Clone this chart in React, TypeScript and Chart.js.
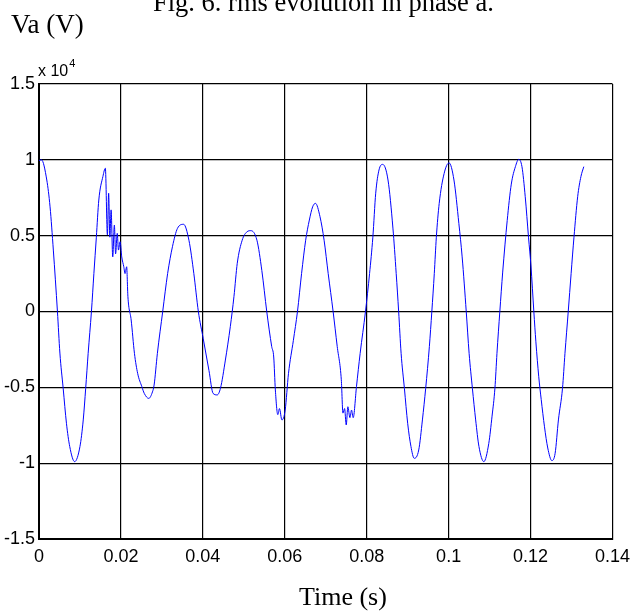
import React, { useEffect, useRef } from "react";
import { Chart, registerables } from "chart.js";

Chart.register(...registerables);

// Time (s)
const timeS = [
  0, 0.0006, 0.0019, 0.0027, 0.0035, 0.0045, 0.0051, 0.0059, 0.0067, 0.0075, 0.0087, 0.0100, 0.0108, 0.0114, 0.0120, 0.0128,
  0.0134, 0.0140, 0.0146, 0.0156, 0.0162, 0.0167, 0.0170, 0.0173, 0.0176, 0.0180, 0.0184, 0.0187, 0.0191, 0.0194, 0.0198,
  0.0202, 0.0207, 0.0210, 0.0214, 0.0217, 0.0225, 0.0233, 0.0241, 0.0251, 0.0257, 0.0268, 0.0277, 0.0281, 0.0289, 0.0302,
  0.0314, 0.0326, 0.0338, 0.0353, 0.0366, 0.0378, 0.0389, 0.0401, 0.0415, 0.0425, 0.0435, 0.0443, 0.0455, 0.0467, 0.0476,
  0.0484, 0.0496, 0.0508, 0.0517, 0.0532, 0.0544, 0.0556, 0.0568, 0.0573, 0.0577, 0.0583, 0.0587, 0.0593, 0.0601, 0.0609,
  0.0621, 0.0631, 0.0641, 0.0651, 0.0660, 0.0668, 0.0675, 0.0686, 0.0696, 0.0706, 0.0718, 0.0728, 0.0738, 0.0742, 0.0746,
  0.0750, 0.0754, 0.0759, 0.0763, 0.0767, 0.0775, 0.0784, 0.0797, 0.0807, 0.0815, 0.0822, 0.0830, 0.0839, 0.0852, 0.0864,
  0.0872, 0.0878, 0.0884, 0.0892, 0.0900, 0.0908, 0.0916, 0.0927, 0.0936, 0.0944, 0.0953, 0.0959, 0.0965, 0.0970, 0.0977,
  0.0989, 0.1001, 0.1013, 0.1025, 0.1033, 0.1043, 0.1050, 0.1058, 0.1066, 0.1074, 0.1086, 0.1098, 0.1106, 0.1113, 0.1118,
  0.1125, 0.1132, 0.1143, 0.1153, 0.1163, 0.1171, 0.1179, 0.1187, 0.1195, 0.1201, 0.1208, 0.1213, 0.1220, 0.1226, 0.1234,
  0.1242, 0.1252, 0.1260, 0.1268, 0.1278, 0.1284, 0.1292, 0.1299, 0.1306, 0.1315, 0.1323, 0.1330,
];

// Va (x 10^4 V)
const vaE4 = [
  0.995, 1.0, 0.867, 0.69, 0.405, 0.0, -0.274, -0.506, -0.737, -0.89, -0.99, -0.89, -0.715, -0.506, -0.276, 0.0,
  0.25, 0.49, 0.735, 0.89, 0.944, 0.504, 0.78, 0.49, 0.67, 0.36, 0.57, 0.38, 0.515, 0.405, 0.46,
  0.36, 0.295, 0.25, 0.295, 0.1, -0.056, -0.276, -0.41, -0.495, -0.54, -0.573, -0.53, -0.485, -0.276, 0.0,
  0.25, 0.43, 0.548, 0.575, 0.47, 0.25, 0.0, -0.18, -0.39, -0.54, -0.55, -0.506, -0.32, -0.1, 0.1,
  0.318, 0.47, 0.526, 0.533, 0.47, 0.27, 0.0, -0.23, -0.3, -0.517, -0.68, -0.64, -0.715, -0.65, -0.41,
  -0.19, 0.0, 0.25, 0.47, 0.603, 0.69, 0.713, 0.625, 0.47, 0.25, 0.0, -0.23, -0.45, -0.67, -0.64,
  -0.748, -0.628, -0.70, -0.65, -0.70, -0.496, -0.276, 0.0, 0.25, 0.49, 0.78, 0.933, 0.97, 0.867, 0.55,
  0.25, 0.0, -0.276, -0.506, -0.737, -0.89, -0.968, -0.913, -0.715, -0.506, -0.23, 0.0, 0.25, 0.49, 0.713,
  0.91, 0.98, 0.867, 0.58, 0.36, 0.0, -0.276, -0.506, -0.715, -0.89, -0.99, -0.87, -0.69, -0.506, -0.276,
  0.0, 0.26, 0.6, 0.84, 0.955, 1.003, 0.955, 0.757, 0.49, 0.3, 0.0, -0.2, -0.43, -0.58, -0.76,
  -0.9, -0.983, -0.935, -0.715, -0.506, -0.276, 0.0, 0.25, 0.49, 0.757, 0.89, 0.955,
];

const xTicks = [0, 0.02, 0.04, 0.06, 0.08, 0.1, 0.12, 0.14];
const xTickLabels = ["0", "0.02", "0.04", "0.06", "0.08", "0.1", "0.12", "0.14"];
const yTicks = [-1.5, -1, -0.5, 0, 0.5, 1, 1.5];
const yTickLabels = ["-1.5", "-1", "-0.5", "0", "0.5", "1", "1.5"];

const titleText = "Fig. 6. rms evolution in phase a.";
const yLabelText = "Va (V)";
const xLabelText = "Time (s)";
const exponentBase = "x 10";
const exponentPower = "4";

const textPlugin = {
  id: "textPlugin",
  afterDraw(chart: any) {
    const ctx = chart.ctx;
    const area = chart.chartArea;
    ctx.save();
    ctx.fillStyle = "#000";
    ctx.textAlign = "left";
    ctx.textBaseline = "alphabetic";
    ctx.font = "26.5px 'Liberation Serif'";
    ctx.fillText(titleText, 153, 11);
    ctx.font = "27px 'Liberation Serif'";
    ctx.fillText(yLabelText, 11, 33);
    ctx.font = "26px 'Liberation Serif'";
    ctx.fillText(xLabelText, 299, 605);
    ctx.font = "16px 'Liberation Sans'";
    ctx.fillText(exponentBase, area.left - 1, area.top - 8);
    const w = ctx.measureText(exponentBase).width;
    ctx.font = "11px 'Liberation Sans'";
    ctx.fillText(exponentPower, area.left - 1 + w + 1, area.top - 17);
    ctx.restore();
  },
};

export default function App() {
  const ref = useRef<HTMLCanvasElement>(null);
  useEffect(() => {
    if (!ref.current) return;
    const chart = new Chart(ref.current, {
      type: "line",
      data: {
        datasets: [
          {
            data: timeS.map((t, i) => ({ x: t, y: vaE4[i] })),
            borderColor: "#0000ff",
            borderWidth: 1,
            pointRadius: 0,
            cubicInterpolationMode: "monotone",
            fill: false,
          },
        ],
      },
      options: {
        animation: false,
        responsive: false,
        devicePixelRatio: 1,
        layout: { padding: { left: 0, right: 21, top: 84, bottom: 33 } },
        plugins: { legend: { display: false }, tooltip: { enabled: false }, title: { display: false } },
        scales: {
          x: {
            type: "linear",
            min: 0,
            max: 0.14,
            afterBuildTicks: (s: any) => {
              s.ticks = xTicks.map((v) => ({ value: v }));
            },
            afterFit: (s: any) => {
              s.height = 40;
            },
            ticks: {
              color: "#000",
              font: { family: "'Liberation Sans'", size: 18 },
              padding: 7,
              maxRotation: 0,
              autoSkip: false,
              callback: (v: any) => {
                const i = xTicks.findIndex((t) => Math.abs(t - v) < 1e-9);
                return i >= 0 ? xTickLabels[i] : "";
              },
            },
            grid: { color: "#000", lineWidth: 1.2, drawTicks: false },
            border: { display: true, color: "#000", width: 2 },
          },
          y: {
            type: "linear",
            min: -1.5,
            max: 1.5,
            afterBuildTicks: (s: any) => {
              s.ticks = yTicks.map((v) => ({ value: v }));
            },
            afterFit: (s: any) => {
              s.width = 39;
            },
            ticks: {
              color: "#000",
              font: { family: "'Liberation Sans'", size: 18 },
              padding: 4,
              autoSkip: false,
              callback: (v: any) => {
                const i = yTicks.findIndex((t) => Math.abs(t - v) < 1e-9);
                return i >= 0 ? yTickLabels[i] : "";
              },
            },
            grid: { color: "#000", lineWidth: 1.2, drawTicks: false },
            border: { display: true, color: "#000", width: 2 },
          },
        },
      },
      plugins: [textPlugin],
    } as any);
    return () => chart.destroy();
  }, []);
  return (
    <div style={{ position: "fixed", left: 0, top: 0, width: 637, height: 612, background: "#fff" }}>
      <canvas ref={ref} width={637} height={612} style={{ width: 637, height: 612 }} />
    </div>
  );
}
